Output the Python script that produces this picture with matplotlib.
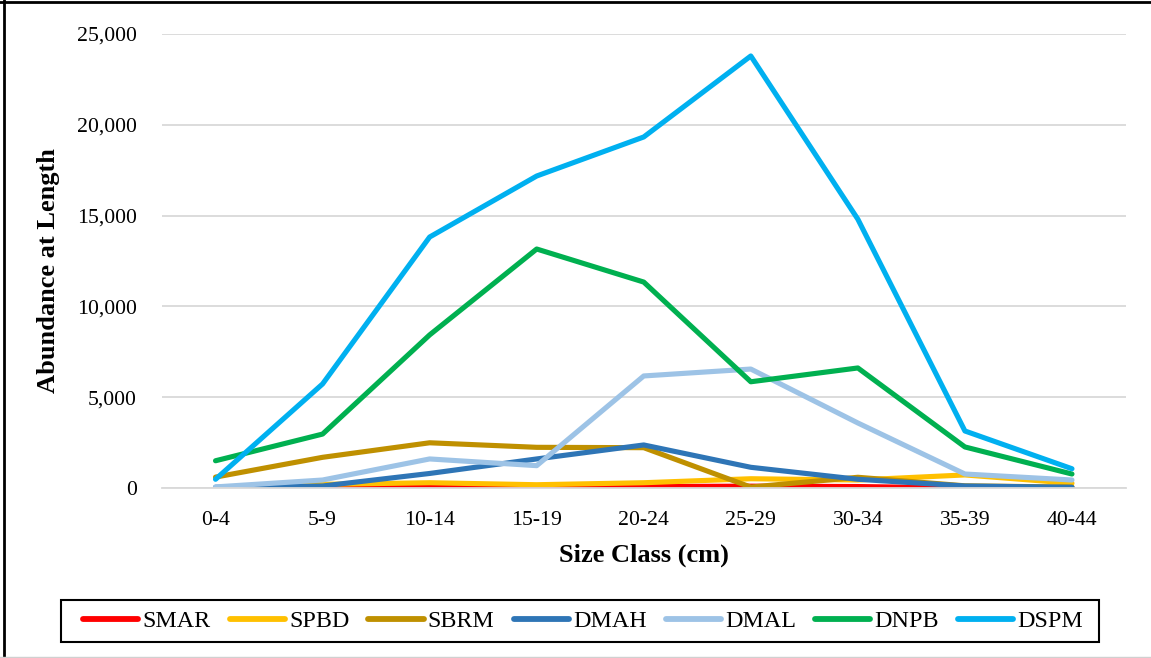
import matplotlib.pyplot as plt
from matplotlib.ticker import FuncFormatter
from matplotlib.patches import Rectangle
from matplotlib.lines import Line2D

plt.rcParams['font.family'] = ['Liberation Serif', 'DejaVu Serif']

size_classes = ['0-4', '5-9', '10-14', '15-19', '20-24', '25-29', '30-34', '35-39', '40-44']

smar = [0, 0, 50, 60, 80, 100, 80, 0, 0]
spbd = [0, 200, 290, 180, 290, 510, 440, 720, 260]
sbrm = [600, 1690, 2490, 2240, 2220, 50, 590, 120, 50]
dmah = [40, 110, 800, 1600, 2370, 1140, 480, 110, 40]
dmal = [60, 440, 1600, 1230, 6170, 6550, 3580, 770, 440]
dnpb = [1500, 2970, 8430, 13160, 11340, 5850, 6610, 2260, 770]
dspm = [480, 5730, 13820, 17180, 19330, 23790, 14800, 3140, 1060]

series = [('SMAR', smar, '#FF0000'),
          ('SPBD', spbd, '#FFC000'),
          ('SBRM', sbrm, '#BF9000'),
          ('DMAH', dmah, '#2E75B6'),
          ('DMAL', dmal, '#9DC3E6'),
          ('DNPB', dnpb, '#00B050'),
          ('DSPM', dspm, '#00B0F0')]

W, H = 1151, 658
fig = plt.figure(figsize=(W / 100, H / 100), dpi=100)
ax = fig.add_axes([162 / W, 1 - 488 / H, (1125.5 - 162) / W, (488 - 34) / H])

x = range(len(size_classes))
for name, vals, col in series:
    ax.plot(x, vals, color=col, lw=3.7, label=name,
            solid_capstyle='round', solid_joinstyle='round')

ax.set_xlim(-0.5, len(size_classes) - 0.5)
ax.set_ylim(0, 25000)
ax.set_yticks(range(0, 25001, 5000))
ax.yaxis.set_major_formatter(FuncFormatter(lambda v, p: f'{int(v):,}'))
ax.set_xticks(list(x))
ax.set_xticklabels(size_classes)
ax.tick_params(length=0, labelsize=15.7)
ax.tick_params(axis='x', pad=16.5)
ax.tick_params(axis='y', pad=18)
ax.grid(axis='y', color='#d9d9d9', lw=1.3)
ax.set_axisbelow(True)
for s in ['top', 'right', 'left']:
    ax.spines[s].set_visible(False)
ax.spines['bottom'].set_color('#d9d9d9')
ax.spines['bottom'].set_linewidth(1.3)

ax.set_xlabel('Size Class (cm)', fontsize=19, fontweight='bold', labelpad=10)
ax.set_ylabel('Abundance at Length', fontsize=19, fontweight='bold', labelpad=12)
ax.yaxis.label.set_y(0.478)

# legend entries spread across a fixed strip, frame drawn separately
leg = fig.legend(loc='center', ncol=7, mode='expand',
                 bbox_to_anchor=(83 / W, 1 - 636 / H, 1000 / W, 30 / H),
                 fontsize=17.3, handlelength=2.3, handletextpad=0.17,
                 frameon=False, borderpad=0, borderaxespad=0)
for h in leg.legend_handles:
    h.set_linewidth(4.2)
    h.set_solid_capstyle('round')

fig.patches.append(Rectangle((61 / W, 1 - 642 / H), 1038 / W, 42 / H,
                             transform=fig.transFigure, fill=False,
                             edgecolor='black', lw=1.5))

# page border: black top and left, grey bottom
fig.lines.append(Line2D([4 / W, 4 / W], [0, 1], transform=fig.transFigure,
                        color='black', lw=2))
fig.lines.append(Line2D([0, 1], [1 - 2 / H, 1 - 2 / H], transform=fig.transFigure,
                        color='black', lw=2))
fig.lines.append(Line2D([0, 1], [1 / H, 1 / H], transform=fig.transFigure,
                        color='#d0d0d0', lw=1))

fig.savefig('out.png', dpi=100)
